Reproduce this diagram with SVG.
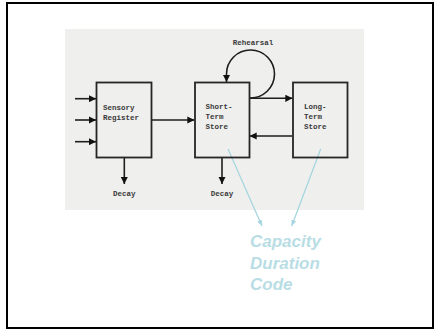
<svg xmlns="http://www.w3.org/2000/svg" width="434" height="332" viewBox="0 0 434 332">
<defs>
<style>
.box{fill:none;stroke:#262626;stroke-width:1.8}
.ln{fill:none;stroke:#1e1e1e;stroke-width:1.6}
.bl{fill:none;stroke:#a3d5de;stroke-width:1.2}
.t{font-family:"Liberation Mono",monospace;font-size:7.5px;font-weight:bold;fill:#3a3a3a}
.c{font-family:"Liberation Sans",Arial,sans-serif;font-size:17px;font-weight:bold;font-style:italic;fill:#b9dde5}
</style>
<marker id="ah" viewBox="0 0 10 10" refX="10" refY="5" markerWidth="4.5" markerHeight="4.5" orient="auto" markerUnits="strokeWidth">
<path d="M0,0 L10,5 L0,10 z" fill="#111"/>
</marker>
<marker id="bh" viewBox="0 0 10 10" refX="10" refY="5" markerWidth="5" markerHeight="5" orient="auto" markerUnits="strokeWidth">
<path d="M0,1 L10,5 L0,9 z" fill="#a3d5de"/>
</marker>
</defs>
<rect x="0" y="0" width="434" height="332" fill="#ffffff"/>
<rect x="7" y="3" width="426" height="325" fill="none" stroke="#000" stroke-width="2"/>
<rect x="65" y="29" width="299" height="181" fill="#efefed"/>
<g id="connectors">
<line class="ln" x1="75" y1="98.7" x2="96" y2="98.7" marker-end="url(#ah)"/>
<line class="ln" x1="75" y1="120" x2="96" y2="120" marker-end="url(#ah)"/>
<line class="ln" x1="75" y1="141.7" x2="96" y2="141.7" marker-end="url(#ah)"/>
<line class="ln" x1="152" y1="120" x2="194.5" y2="120" marker-end="url(#ah)"/>
<line class="ln" x1="249.5" y1="98.3" x2="292.5" y2="98.3" marker-end="url(#ah)"/>
<line class="ln" x1="292.5" y1="136" x2="249.5" y2="136" marker-end="url(#ah)"/>
<path class="ln" d="M249.5,98 L250,98 A24,24 0 1 0 226.5,74 L226.5,82" marker-end="url(#ah)"/>
<line class="ln" x1="124.3" y1="158" x2="124.3" y2="184" marker-end="url(#ah)"/>
<line class="ln" x1="222" y1="158" x2="222" y2="184" marker-end="url(#ah)"/>
<line class="bl" x1="228" y1="149" x2="262" y2="226" marker-end="url(#bh)"/>
<line class="bl" x1="320.7" y1="149" x2="291.7" y2="226" marker-end="url(#bh)"/>
</g>
<g id="sensory">
<rect class="box" x="96.5" y="82.5" width="55" height="75"/>
<text class="t" x="103" y="110">Sensory</text>
<text class="t" x="103" y="120">Register</text>
</g>
<g id="sts">
<rect class="box" x="195" y="82.5" width="54.5" height="75"/>
<text class="t" x="205.5" y="109">Short-</text>
<text class="t" x="205.5" y="119">Term</text>
<text class="t" x="205.5" y="129">Store</text>
</g>
<g id="lts">
<rect class="box" x="293" y="82.5" width="54.5" height="75"/>
<text class="t" x="304" y="109">Long-</text>
<text class="t" x="304" y="119">Term</text>
<text class="t" x="304" y="129">Store</text>
</g>
<g id="rehearsal"><text class="t" x="253" y="44.5" text-anchor="middle">Rehearsal</text></g>
<g id="decay1"><text class="t" x="124.3" y="196" text-anchor="middle">Decay</text></g>
<g id="decay2"><text class="t" x="222" y="196" text-anchor="middle">Decay</text></g>
<g id="notes">
<text class="c" x="250" y="247">Capacity</text>
<text class="c" x="250" y="268.5">Duration</text>
<text class="c" x="250" y="290">Code</text>
</g>
</svg>
